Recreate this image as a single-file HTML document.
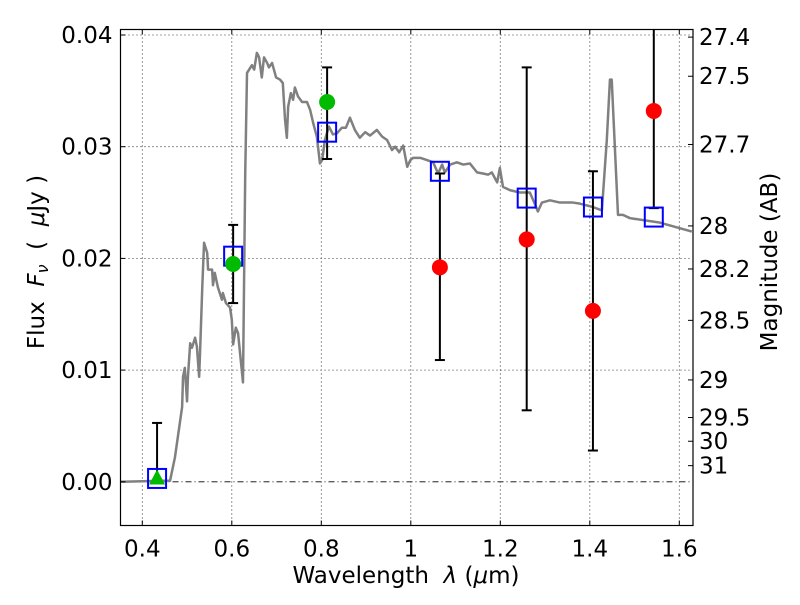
<!DOCTYPE html>
<html><head><meta charset="utf-8"><style>
body{margin:0;background:#fff}
svg text{font-family:"DejaVu Sans","Liberation Sans",sans-serif;fill:#000}
</style></head><body>
<svg id="chart" width="800" height="600" viewBox="0 0 800 600" xmlns="http://www.w3.org/2000/svg">
<rect x="0" y="0" width="800" height="600" fill="#fff"/>
<g id="grid"></g><g id="spec"></g><g id="marks"></g><g id="axes"></g>
</svg>
<script>
const xTicks=[0.4,0.6,0.8,1.0,1.2,1.4,1.6];
const xTickLabels=["0.4","0.6","0.8","1","1.2","1.4","1.6"];
const yTicks=[0,0.01,0.02,0.03,0.04];
const yTickLabels=["0.00","0.01","0.02","0.03","0.04"];
const magTicks=[27.4,27.5,27.7,28,28.2,28.5,29,29.5,30,31];
const magTickLabels=["27.4","27.5","27.7","28","28.2","28.5","29","29.5","30","31"];
const specWl=[0.352,0.462,0.473,0.489,0.491,0.495,0.500,0.502,0.507,0.511,0.518,0.522,0.527,0.529,0.534,0.538,0.545,0.547,0.556,0.558,0.562,0.569,0.578,0.580,0.587,0.596,0.600,0.603,0.609,0.614,0.625,0.630,0.634,0.645,0.650,0.656,0.661,0.667,0.672,0.679,0.683,0.690,0.699,0.708,0.714,0.719,0.723,0.726,0.732,0.737,0.741,0.748,0.757,0.768,0.775,0.782,0.790,0.797,0.802,0.808,0.817,0.826,0.835,0.846,0.855,0.864,0.875,0.886,0.898,0.909,0.924,0.936,0.947,0.958,0.965,0.974,0.983,0.992,0.999,1.005,1.021,1.036,1.050,1.061,1.070,1.076,1.088,1.103,1.117,1.132,1.148,1.161,1.173,1.181,1.193,1.199,1.206,1.222,1.244,1.266,1.278,1.284,1.293,1.311,1.333,1.362,1.378,1.407,1.427,1.438,1.445,1.449,1.463,1.474,1.490,1.557,1.628];
const specFlux=[0,0.0001,0.0022,0.0067,0.0094,0.0102,0.0072,0.0094,0.0124,0.0120,0.0129,0.0121,0.0094,0.0115,0.0174,0.0214,0.0205,0.0190,0.0190,0.0176,0.0187,0.0174,0.0163,0.0169,0.0160,0.0156,0.0145,0.0123,0.0138,0.0133,0.0089,0.0276,0.0366,0.0373,0.0369,0.0384,0.0380,0.0362,0.0380,0.0375,0.0371,0.0375,0.0362,0.0360,0.0357,0.0324,0.0308,0.0336,0.0348,0.0342,0.0353,0.0345,0.0340,0.0340,0.0333,0.0321,0.0309,0.0285,0.0288,0.0306,0.0318,0.0311,0.0312,0.0317,0.0317,0.0326,0.0315,0.0308,0.0313,0.0310,0.0315,0.0309,0.0306,0.0297,0.0300,0.0295,0.0301,0.0282,0.0288,0.0290,0.0290,0.0288,0.0286,0.0276,0.0284,0.0277,0.0284,0.0286,0.0284,0.0285,0.0277,0.0276,0.0275,0.0277,0.0268,0.0281,0.0264,0.0261,0.0259,0.0259,0.0248,0.0242,0.0250,0.0252,0.0250,0.0250,0.0249,0.0246,0.0243,0.0306,0.0360,0.0360,0.0239,0.0239,0.0236,0.0232,0.0224];
const modelWl=[0.433,0.603,0.813,1.065,1.259,1.407,1.543];
const modelFlux=[0.0003,0.0202,0.0313,0.0278,0.0254,0.0246,0.0237];
const obsWl=[0.433,0.603,0.813,1.065,1.259,1.407,1.543];
const obsFlux=[0.0003,0.0195,0.0340,0.0192,0.0217,0.0153,0.0332];
const obsKind=["limit","det","det","low","low","low","low"];
const errLo=[0.0,0.0160,0.0289,0.0109,0.0064,0.0028,0.0245];
const errHi=[0.00527,0.0230,0.0371,0.0276,0.0371,0.0278,0.0460];

const L=120.5,R=693,T=29.5,B=525.5;
const sx=v=>142.3+(v-0.4)*447.5;
const sy=v=>481.8-v*11170;
const NS="http://www.w3.org/2000/svg";
function mk(parent,tag,attrs){const e=document.createElementNS(NS,tag);for(const k in attrs)e.setAttribute(k,attrs[k]);parent.appendChild(e);return e;}
const grid=document.getElementById('grid'),spec=document.getElementById('spec'),marks=document.getElementById('marks'),axes=document.getElementById('axes');
const defs=mk(document.getElementById('chart'),'defs',{});
const cp=mk(defs,'clipPath',{id:'pc'});mk(cp,'rect',{x:L,y:T,width:R-L,height:B-T});
spec.setAttribute('clip-path','url(#pc)');marks.setAttribute('clip-path','url(#pc)');

xTicks.forEach((v,i)=>{
 const g=mk(grid,'line',{x1:sx(v),x2:sx(v),y1:T,y2:B,stroke:'#000','stroke-width':0.8,'stroke-dasharray':'1,3'});
 
 mk(axes,'line',{x1:sx(v),x2:sx(v),y1:B,y2:B-5,stroke:'#000'});
 mk(axes,'line',{x1:sx(v),x2:sx(v),y1:T,y2:T+5,stroke:'#000'});
 const t=mk(axes,'text',{x:sx(v),y:B+31,'font-size':23,'text-anchor':'middle'});t.textContent=xTickLabels[i];
 
});
yTicks.forEach((v,i)=>{
 const g=mk(grid,'line',{x1:L,x2:R,y1:sy(v),y2:sy(v),stroke:'#000','stroke-width':0.8,'stroke-dasharray':v===0?'6,3,1,3':'1,3'});
 
 mk(axes,'line',{x1:L,x2:L+5,y1:sy(v),y2:sy(v),stroke:'#000'});
 const t=mk(axes,'text',{x:L-8,y:sy(v)+8,'font-size':23,'text-anchor':'end'});t.textContent=yTickLabels[i];
 
});
magTicks.forEach((m,i)=>{
 const f=Math.pow(10,(23.9-m)/2.5);const y=sy(f);
 mk(axes,'line',{x1:R,x2:R-5,y1:y,y2:y,stroke:'#000'});
 const t=mk(axes,'text',{x:R+6,y:y+8,'font-size':23});t.textContent=magTickLabels[i];
 
});
const sp=mk(spec,'polyline',{points:specWl.map((w,i)=>sx(w)+','+sy(specFlux[i])).join(' '),fill:'none',stroke:'#808080','stroke-width':2.5,'stroke-linejoin':'round'});

obsWl.forEach((w,i)=>{
 const x=sx(w);
 const e=mk(marks,'g',{});
 mk(e,'line',{x1:x,x2:x,y1:sy(errLo[i]),y2:sy(errHi[i]),stroke:'#000','stroke-width':2});
 mk(e,'line',{x1:x-5,x2:x+5,y1:sy(errLo[i]),y2:sy(errLo[i]),stroke:'#000','stroke-width':2});
 mk(e,'line',{x1:x-5,x2:x+5,y1:sy(errHi[i]),y2:sy(errHi[i]),stroke:'#000','stroke-width':2});
});
modelWl.forEach((w,i)=>{
 const r=mk(marks,'rect',{x:sx(w)-9,y:sy(modelFlux[i])-9.5,width:18,height:19,fill:'none',stroke:'#0000ff','stroke-width':2});
 
});
obsWl.forEach((w,i)=>{
 const x=sx(w),y=sy(obsFlux[i]);let el;
 if(obsKind[i]==='limit'){el=mk(marks,'polygon',{points:`${x},${y-9} ${x-8},${y+6} ${x+8},${y+6}`,fill:'#00bb00'});}
 else el=mk(marks,'circle',{cx:x,cy:y,r:8,fill:obsKind[i]==='det'?'#00bb00':'#ff0000'});
 
});
const fr=mk(axes,'rect',{x:L,y:T,width:R-L,height:B-T,fill:'none',stroke:'#000','stroke-width':1.2});

</script>
<svg style="position:absolute;left:0;top:0" width="800" height="600">
<text x="406" y="583" font-size="23" text-anchor="middle" style="font-family:'DejaVu Sans',sans-serif;white-space:pre">Wavelength  <tspan font-style="italic">λ</tspan> (<tspan font-style="italic">μ</tspan>m)</text>
<text transform="translate(44,262) rotate(-90)" font-size="23" text-anchor="middle" style="font-family:'DejaVu Sans',sans-serif;white-space:pre">Flux  <tspan font-style="italic">F</tspan><tspan font-style="italic" font-size="16" dy="4">ν</tspan><tspan dy="-4">  (  </tspan><tspan font-style="italic">μ</tspan>Jy )</text>
<text transform="translate(777,262) rotate(-90)" font-size="23" text-anchor="middle" style="font-family:'DejaVu Sans',sans-serif">Magnitude (AB)</text>
</svg>
</body></html>
